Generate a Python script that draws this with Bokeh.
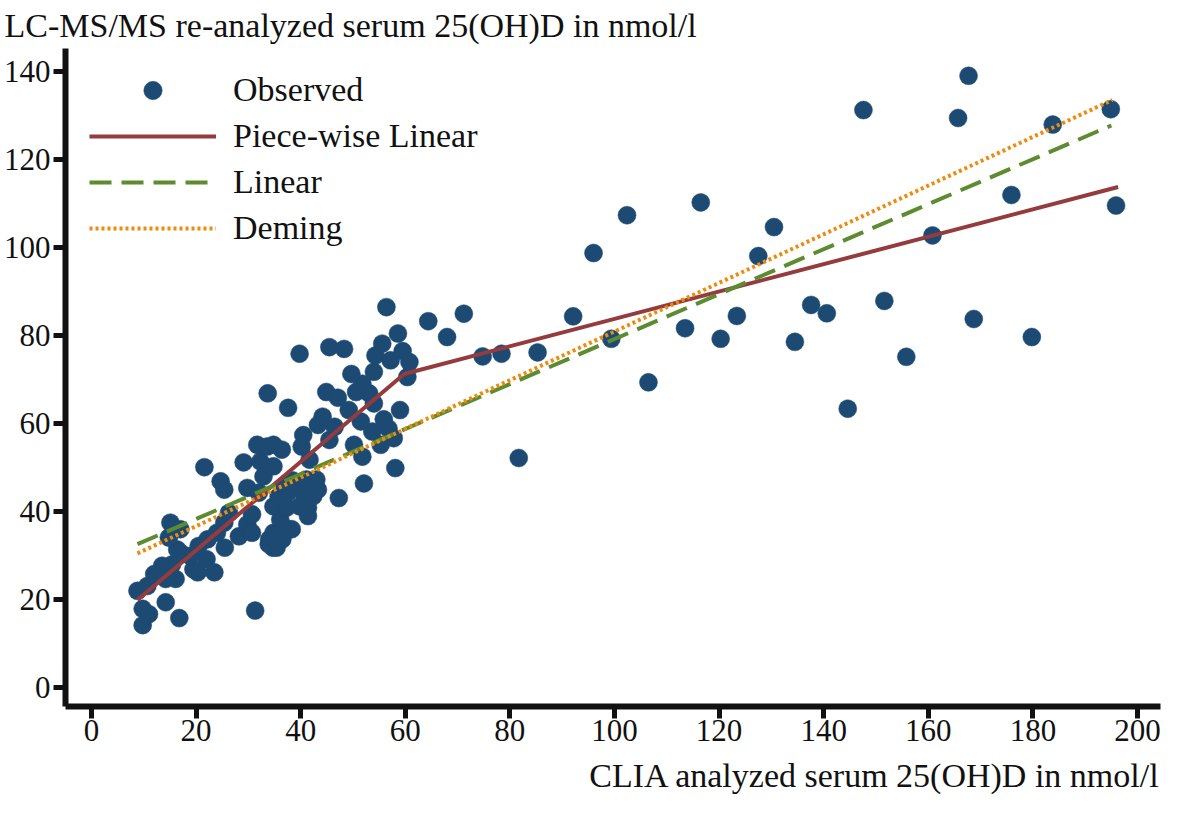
from bokeh.plotting import figure
from bokeh.models import Range1d, Legend, LegendItem, Title
from bokeh.embed import file_html
from bokeh.resources import INLINE

# Observed points (CLIA x, LC-MS/MS y)
obs_x = [8.8, 9.8, 11, 9.8, 14.2, 16.8, 10.7, 12, 13.5, 15.4, 16.1, 14.2, 19.5, 18.9, 20.5, 16.4,
         22, 23.5, 25.5, 24, 22.2, 15.1, 14.8, 17, 21.6, 24.7, 25.4, 26.3, 25.4, 28.2, 29.8, 30.7,
         30.7, 29.8, 29.1, 31.3, 20.3, 17.2,
         32.3, 32.9, 34.8, 31.7, 33.6, 34.8, 36.4, 32, 34.7, 36.5, 37.8, 34, 33.9, 35.4, 34.8, 36.1,
         37, 38.3, 34.8, 37.3, 39.8, 41.4, 41.4, 35.8, 37.6, 40.5, 42.4, 43.3, 37, 38.5, 41.1, 43,
         47.3, 52.1, 41.7, 40.2, 40.5, 45.5, 46.5, 43.3, 44.2, 37.6, 33.7, 44.9, 47.1, 39.8, 45.5,
         48.3, 49.2, 50.2, 51.8, 55.3, 53.7, 51.5, 55.9, 56.8, 57.8, 58.1, 59, 54, 53.1, 50.6, 51.8,
         49.7, 54, 54.3, 55.6, 57.2, 59.5, 58.6, 56.4, 60.8, 60.4,
         64.4, 68, 71.2, 74.8, 78.4, 81.7, 85.3, 92.1, 96, 99.4, 102.4, 106.5, 113.5, 116.5, 120.3,
         123.4, 127.5, 130.5, 134.5, 137.6, 140.6, 144.6, 147.6, 151.6, 155.8, 160.8, 165.7, 167.7,
         168.7, 175.9, 179.8, 183.8, 194.9, 195.9]
obs_y = [22, 17.9, 16.7, 14.2, 19.4, 15.8, 23.1, 25.8, 27.7, 28, 24.7, 24.7, 26.9, 29.9, 32.2, 31.4,
         29.2, 26.2, 31.8, 35.2, 33.7, 37.5, 34.1, 36, 50.1, 46.9, 45, 39.7, 37.5, 34.4, 37.1, 39.4,
         35.2, 45.4, 51.2, 17.5, 26.2, 30.5,
         51.4, 48, 50.3, 55.2, 54.8, 55.2, 54.1, 44.3, 31.8, 33.7, 36, 33.7, 32.6, 31.8, 35.2, 38.2,
         36, 36, 41.2, 40.9, 41.2, 40.9, 39, 43.5, 44.3, 44.3, 43.5, 45, 45.8, 47.1, 47.3, 47.3,
         43.1, 46.4, 51.8, 54.8, 57.4, 56.3, 59.3, 59.7, 61.6, 63.6, 66.9, 67.2, 65.9, 75.9, 77.4,
         77, 63.1, 55.2, 52.5, 55.2, 58.2, 60.5, 61, 58.9, 56.7, 49.9, 63.1, 64.6, 66.9, 67.2, 69.1,
         71.3, 71.8, 75.5, 78.2, 74.4, 76.5, 80.5, 86.5, 74, 70.6,
         83.3, 79.7, 85, 75.3, 75.9, 52.2, 76.2, 84.4, 98.8, 79.3, 107.4, 69.4, 81.7, 110.3, 79.3,
         84.5, 98.1, 104.7, 78.6, 87, 85.1, 63.4, 131.3, 87.9, 75.2, 102.8, 129.5, 139.1,
         83.8, 112, 79.7, 128, 131.5, 109.6]

# Fitted lines
pw_x = [8.8, 59.8, 196.3]
pw_y = [19.9, 71.3, 113.8]
lin_x = [8.8, 195.0]
lin_y = [32.6, 127.8]
dem_x = [8.8, 195.2]
dem_y = [30.5, 133.6]

x_ticks = [0, 20, 40, 60, 80, 100, 120, 140, 160, 180, 200]
y_ticks = [0, 20, 40, 60, 80, 100, 120, 140]

x_title = "CLIA analyzed serum 25(OH)D in nmol/l"
y_title = "LC-MS/MS re-analyzed serum 25(OH)D in nmol/l"
legend_labels = ["Observed", "Piece-wise Linear", "Linear", "Deming"]

FONT = "Liberation Serif"
INK = "#111111"
DOT = "#1d4a73"
RED = "#943b3e"
GREEN = "#5d8b2f"
ORANGE = "#ef8a0d"

p = figure(width=1161, height=804, output_backend="svg", toolbar_location=None,
           x_range=Range1d(-4.96, 204.4), y_range=Range1d(-4.3, 145.3),
           min_border_left=62, min_border_right=1, min_border_top=48, min_border_bottom=96)
p.outline_line_color = None
p.grid.visible = False
p.background_fill_color = "white"
p.border_fill_color = "white"

r_obs = p.scatter(obs_x, obs_y, size=18, marker="circle", fill_color=DOT, line_color=DOT, line_width=0.5)
r_pw = p.line(pw_x, pw_y, line_color=RED, line_width=4)
r_lin = p.line(lin_x, lin_y, line_color=GREEN, line_width=4, line_dash="22 10")
r_dem = p.line(dem_x, dem_y, line_color=ORANGE, line_width=4, line_dash="3 3")

for ax in (p.xaxis[0], p.yaxis[0]):
    ax.axis_line_width = 6
    ax.axis_line_color = INK
    ax.major_tick_line_width = 5
    ax.major_tick_line_color = INK
    ax.major_tick_out = 12
    ax.major_tick_in = 0
    ax.minor_tick_line_color = None
    ax.major_label_text_font = FONT
    ax.major_label_text_font_size = "31px"
    ax.major_label_text_color = INK
p.xaxis[0].ticker = x_ticks
p.yaxis[0].ticker = y_ticks
p.xaxis[0].major_label_standoff = 1
p.yaxis[0].major_label_standoff = 3

legend = Legend(items=[LegendItem(label=legend_labels[0], renderers=[r_obs]),
                       LegendItem(label=legend_labels[1], renderers=[r_pw]),
                       LegendItem(label=legend_labels[2], renderers=[r_lin]),
                       LegendItem(label=legend_labels[3], renderers=[r_dem])],
                location=(24, 455), glyph_width=127, glyph_height=46, label_height=46,
                label_standoff=17, spacing=0, padding=0, margin=0,
                border_line_color=None, background_fill_alpha=0,
                label_text_font=FONT, label_text_font_size="34px", label_text_color=INK)
p.add_layout(legend, "center")

p.title = Title(text=y_title, align="left", offset=-61, standoff=6, vertical_align="top",
                text_line_height=0.6,
                text_font=FONT, text_font_size="34px", text_font_style="normal",
                text_color=INK)
p.add_layout(Title(text=x_title, align="right", standoff=22, vertical_align="bottom",
                   text_line_height=0.6,
                   text_font=FONT, text_font_size="34px", text_font_style="normal",
                   text_color=INK), "below")

open("out.html", "w").write(file_html(p, INLINE))
